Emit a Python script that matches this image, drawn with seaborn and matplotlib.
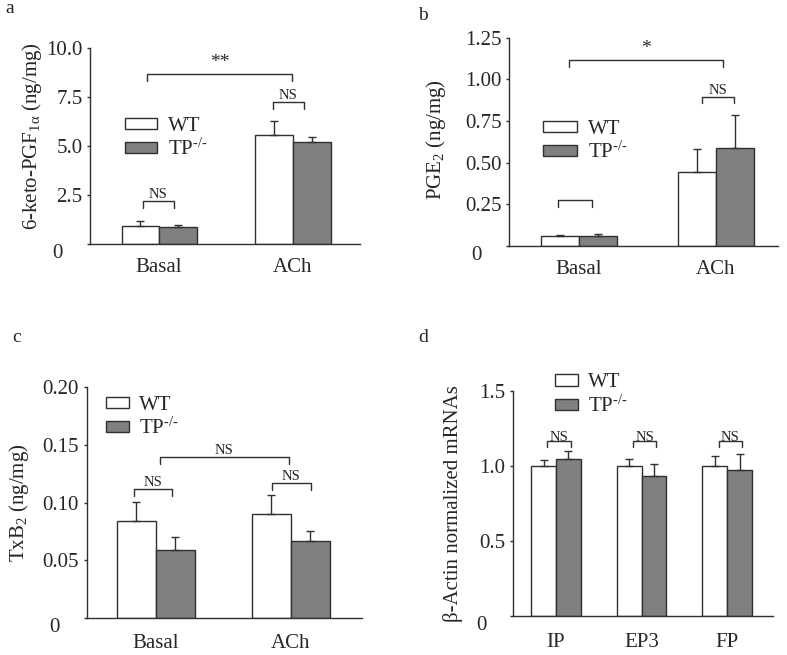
import matplotlib

matplotlib.use("Agg")

import matplotlib.pyplot as plt
import matplotlib.transforms as mtransforms
import pandas as pd
import seaborn as sns

# --- data ---
genotypes = ["WT", "TP-/-"]

a_cats = ["Basal", "ACh"]
a_wt = [0.92, 5.55]
a_wt_err = [0.27, 0.74]
a_tp = [0.85, 5.22]
a_tp_err = [0.12, 0.22]

b_cats = ["Basal", "ACh"]
b_wt = [0.058, 0.442]
b_wt_err = [0.008, 0.140]
b_tp = [0.058, 0.590]
b_tp_err = [0.016, 0.198]

c_cats = ["Basal", "ACh"]
c_wt = [0.0842, 0.0898]
c_wt_err = [0.0165, 0.0165]
c_tp = [0.0588, 0.0666]
c_tp_err = [0.0110, 0.0089]

d_cats = ["IP", "EP3", "FP"]
d_wt = [1.00, 1.00, 1.00]
d_wt_err = [0.040, 0.044, 0.067]
d_tp = [1.045, 0.935, 0.973]
d_tp_err = [0.057, 0.076, 0.107]

a_ticks = [0, 2.5, 5.0, 7.5, 10.0]
a_ticklabels = ["0", "2.5", "5.0", "7.5", "10.0"]
b_ticks = [0, 0.25, 0.5, 0.75, 1.0, 1.25]
b_ticklabels = ["0", "0.25", "0.50", "0.75", "1.00", "1.25"]
c_ticks = [0, 0.05, 0.10, 0.15, 0.20]
c_ticklabels = ["0", "0.05", "0.10", "0.15", "0.20"]
d_ticks = [0, 0.5, 1.0, 1.5]
d_ticklabels = ["0", "0.5", "1.0", "1.5"]

sns.set_style("ticks")
plt.rcParams["font.family"] = ["Liberation Serif", "DejaVu Serif"]
plt.rcParams["mathtext.fontset"] = "custom"
plt.rcParams["mathtext.rm"] = "Liberation Serif"
plt.rcParams["mathtext.it"] = "Liberation Serif:italic"

EDGE = "#303030"
GREY = "#808080"
FS = 15


def long_frame(cats, wt, tp):
    return pd.DataFrame({
        "cond": cats * 2,
        "geno": [genotypes[0]] * len(cats) + [genotypes[1]] * len(cats),
        "value": list(wt) + list(tp),
    })


def bracket(ax, x1, x2, y, h, text="", fs=10.5, dy=0.0):
    ax.plot([x1, x1, x2, x2], [y - h, y, y, y - h], color=EDGE, lw=1, clip_on=False)
    if text:
        ax.text((x1 + x2) / 2, y + dy, text, ha="center", va="bottom", fontsize=fs)


def panel(fig, rect, cats, wt, wt_err, tp, tp_err, width, xlim, ylim, ticks, ticklabels,
          ylabel, label_xy, leg_xy, handlelength, xpad=10):
    ax = fig.add_axes(rect)
    df = long_frame(cats, wt, tp)
    sns.barplot(data=df, x="cond", y="value", hue="geno", palette=["white", GREY],
                edgecolor=EDGE, linewidth=1, width=width, errorbar=None, ax=ax)
    # one-sided (upper) error bars
    for cont, errs in zip(ax.containers, [wt_err, tp_err]):
        xs = [p.get_x() + p.get_width() / 2 for p in cont.patches]
        ys = [p.get_height() for p in cont.patches]
        ax.errorbar(xs, ys, yerr=[[0] * len(errs), errs], fmt="none", ecolor=EDGE,
                    elinewidth=1, capsize=3, capthick=1, zorder=1)
    ax.set_xlim(*xlim)
    ax.set_ylim(*ylim)
    ax.set_yticks(ticks)
    ax.set_yticklabels(ticklabels, fontsize=FS)
    ax.tick_params(axis="y", length=2.5, width=1, color=EDGE, pad=3)
    ax.tick_params(axis="x", length=0, pad=xpad, labelsize=FS)
    ax.set_xlabel("")
    ax.set_ylabel(ylabel, fontsize=FS)
    ax.yaxis.set_label_coords(*label_xy)
    sns.despine(ax=ax)
    for s in ["left", "bottom"]:
        ax.spines[s].set_color(EDGE)
        ax.spines[s].set_linewidth(1)
    # "0" label sits lower-left like the original
    zero = ax.get_yticklabels()[0]
    zero.set_transform(zero.get_transform()
                       + mtransforms.ScaledTranslation(-14 / 72, -5 / 72, fig.dpi_scale_trans))
    handles, _ = ax.get_legend_handles_labels()
    ax.legend(handles=handles, labels=["WT", r"TP$^{\text{-/-}}$"], loc="center left",
              bbox_to_anchor=leg_xy, frameon=False, fontsize=FS, handlelength=handlelength,
              handleheight=0.45, handletextpad=0.5, labelspacing=0.15, borderpad=0,
              borderaxespad=0)
    return ax


fig = plt.figure(figsize=(7.87, 6.55), dpi=100)

# a
ax = panel(fig, [0.1144, 0.6275, 0.343, 0.2992], a_cats, a_wt, a_wt_err, a_tp, a_tp_err,
           0.56, (-0.515, 1.5), (0, 10), a_ticks, a_ticklabels,
           r"6-keto-PGF$_{\mathregular{1α}}$ (ng/mg)", (-0.17, 0.55), (0.13, 0.538), 1.55)
bracket(ax, -0.09, 0.99, 8.67, 0.35, "**", fs=14, dy=0.15)
bracket(ax, -0.12, 0.11, 2.2, 0.35, "NS")
bracket(ax, 0.85, 1.08, 7.26, 0.35, "NS")

# b
ax = panel(fig, [0.6468, 0.6244, 0.3418, 0.318], b_cats, b_wt, b_wt_err, b_tp, b_tp_err,
           0.56, (-0.511, 1.453), (0, 1.25), b_ticks, b_ticklabels,
           r"PGE$_{\mathregular{2}}$ (ng/mg)", (-0.228, 0.509), (0.126, 0.502), 1.65)
bracket(ax, -0.073, 1.05, 1.116, 0.04, "*", fs=14, dy=0.02)
bracket(ax, -0.153, 0.095, 0.276, 0.04)
bracket(ax, 0.896, 1.134, 0.896, 0.04, "NS")

# c
ax = panel(fig, [0.1102, 0.0569, 0.3494, 0.3517], c_cats, c_wt, c_wt_err, c_tp, c_tp_err,
           0.58, (-0.511, 1.526), (0, 0.2), c_ticks, c_ticklabels,
           r"TxB$_{\mathregular{2}}$ (ng/mg)", (-0.203, 0.498), (0.07, 0.87), 1.1, xpad=12)
bracket(ax, 0.032, 0.985, 0.1398, 0.006, "NS")
bracket(ax, -0.16, 0.12, 0.112, 0.006, "NS")
bracket(ax, 0.86, 1.15, 0.117, 0.006, "NS")

# d
ax = panel(fig, [0.6522, 0.0595, 0.33, 0.3435], d_cats, d_wt, d_wt_err, d_tp, d_tp_err,
           0.58, (-0.499, 2.534), (0, 1.5), d_ticks, d_ticklabels,
           "β-Actin normalized mRNAs", (-0.195, 0.502), (0.16, 0.982), 1.1, xpad=12)
for i in range(len(d_cats)):
    bracket(ax, i - 0.1, i + 0.17, 1.167, 0.04, "NS", dy=-0.02)

# panel letters, placed by baseline
for lbl, x, y in [("a", 0.007, 0.980), ("b", 0.531, 0.970), ("c", 0.015, 0.478), ("d", 0.532, 0.478)]:
    fig.text(x, y, lbl, fontsize=14, ha="left", va="baseline")

fig.savefig("out.png", dpi=100)
